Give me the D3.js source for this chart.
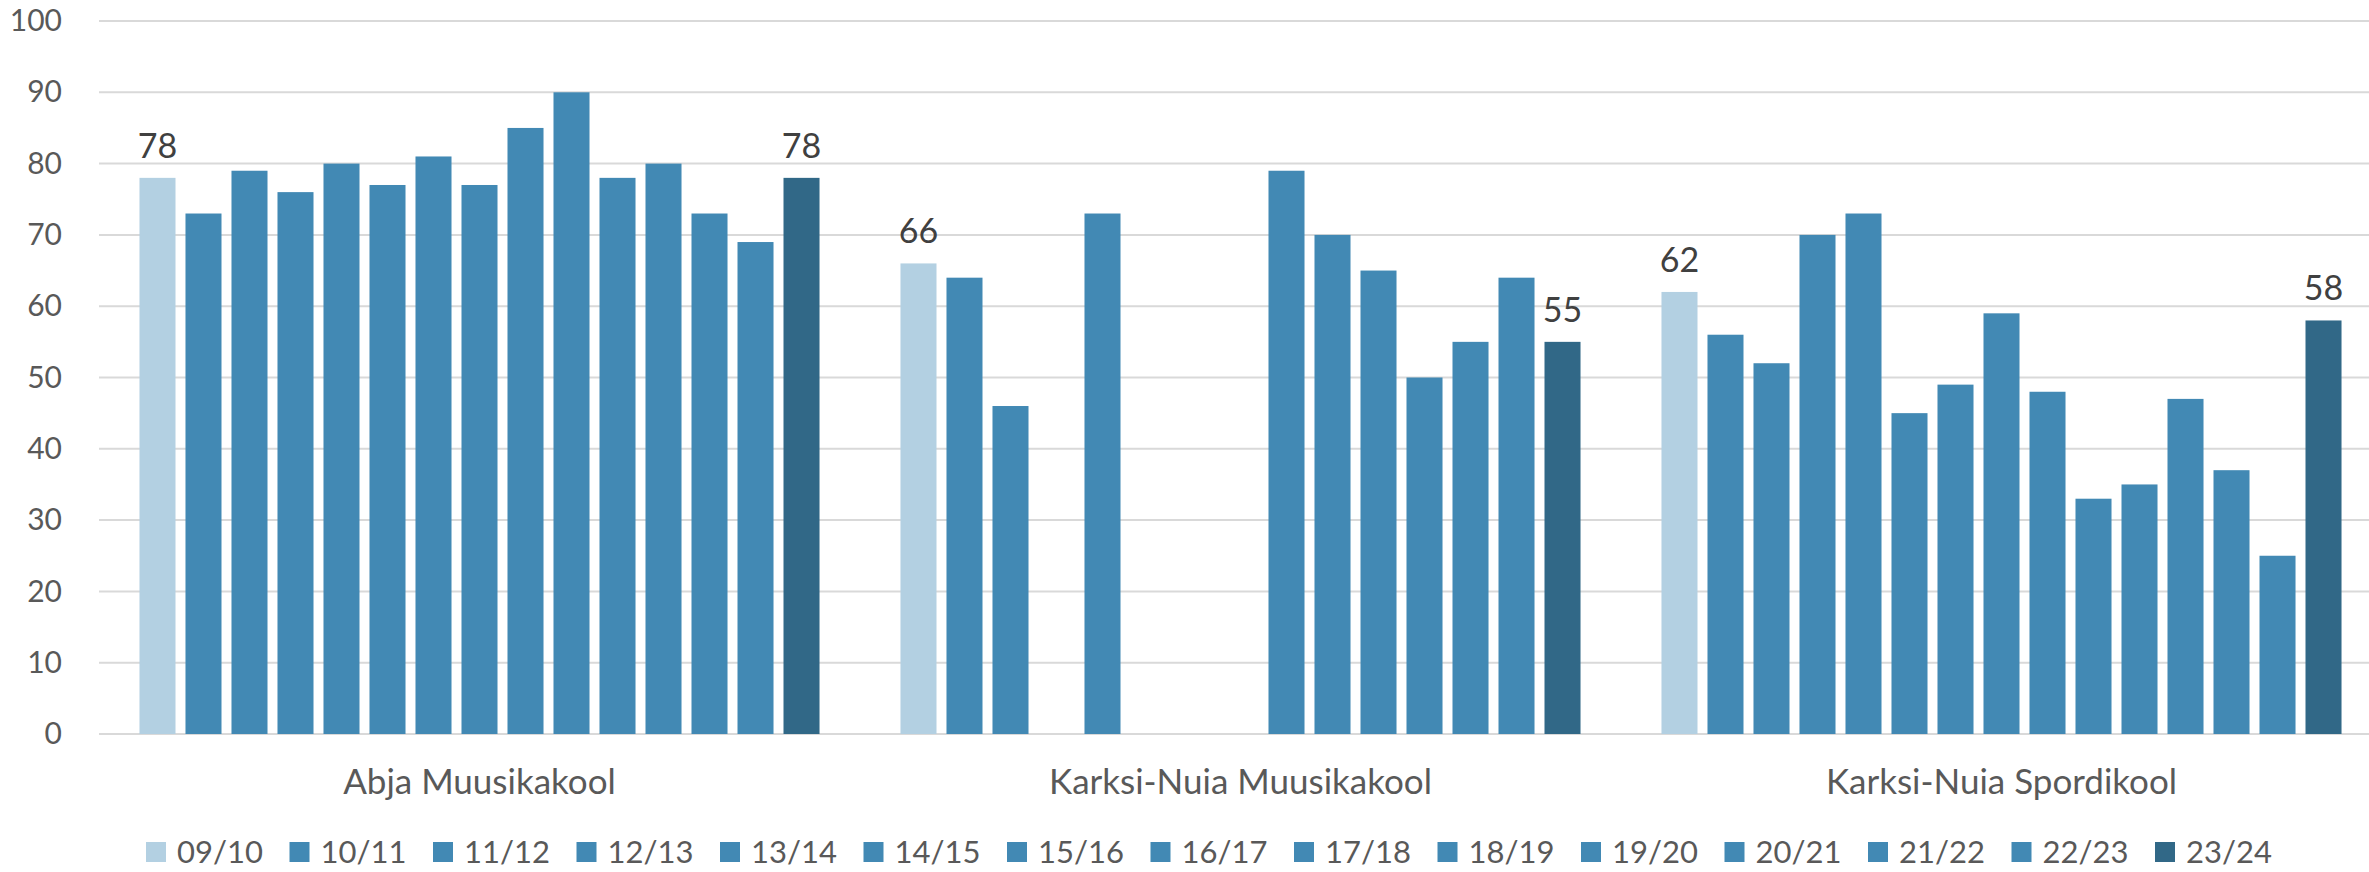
<!DOCTYPE html>
<html>
<head>
<meta charset="utf-8">
<script src="https://cdn.jsdelivr.net/npm/d3@7"></script>
<style>
  body { margin: 0; background: #fff; }
  text { font-family: Lato, "Open Sans", sans-serif; fill: #595959; }
</style>
</head>
<body>
<div id="chart"></div>
<script>
const schools = ['Abja Muusikakool', 'Karksi-Nuia Muusikakool', 'Karksi-Nuia Spordikool']
const years = ['09/10', '10/11', '11/12', '12/13', '13/14', '14/15', '15/16', '16/17',
               '17/18', '18/19', '19/20', '20/21', '21/22', '22/23', '23/24']
const abja = [78, 73, 79, 76, 80, 77, 81, 77, 85, 90, 78, 80, 73, 69, 78]
const karksiMuusika = [66, 64, 46, null, 73, null, null, null, 79, 70, 65, 50, 55, 64, 55]
const karksiSport = [62, 56, 52, 70, 73, 45, 49, 59, 48, 33, 35, 47, 37, 25, 58]
const yTicks = [0, 10, 20, 30, 40, 50, 60, 70, 80, 90, 100]
const labelledYears = ['09/10', '23/24']

const w = 2369
const h = 872
const margin = { top: 21, right: -13, bottom: 138, left: 99 }

const values = [abja, karksiMuusika, karksiSport]
const chartData = []
schools.forEach((s, i) => {
    years.forEach((y, j) => {
        if (values[i][j] != null) chartData.push({ school: s, year: y, value: values[i][j] })
    })
})

const color = y => y === '09/10' ? '#b3d0e2' : (y === '23/24' ? '#316887' : '#4289b4')

const svg = d3.select('#chart')
    .append('svg')
    .attr('width', w)
    .attr('height', h)

const x0 = d3.scaleBand()
    .domain(schools)
    .range([margin.left, w - margin.right])
    .padding(0)

const x1 = d3.scaleBand()
    .domain(years)
    .range([0, x0.bandwidth()])
    .paddingInner(0.217)
    .paddingOuter(0.88)

const yScale = d3.scaleLinear()
    .domain([0, 100])
    .range([h - margin.bottom, margin.top])

// gridlines
svg.append('g')
    .selectAll('line')
    .data(yTicks)
    .enter()
    .append('line')
    .attr('x1', margin.left)
    .attr('x2', w - margin.right)
    .attr('y1', d => yScale(d))
    .attr('y2', d => yScale(d))
    .attr('stroke', '#d9d9d9')
    .attr('stroke-width', 2)

const yAxis = d3.axisLeft(yScale).tickValues(yTicks).tickSize(0).tickPadding(0)
svg.append('g')
    .attr('transform', 'translate(62,0)')
    .call(yAxis)
    .call(g => g.select('.domain').remove())
    .selectAll('text')
    .attr('font-size', 30)
    .style('font-family', null)

svg.selectAll('rect.bar')
    .data(chartData)
    .enter()
    .append('rect')
    .attr('class', 'bar')
    .attr('x', d => x0(d.school) + x1(d.year))
    .attr('y', d => yScale(d.value))
    .attr('width', x1.bandwidth())
    .attr('height', d => yScale(0) - yScale(d.value))
    .attr('fill', d => color(d.year))

svg.selectAll('text.lbl')
    .data(chartData.filter(d => labelledYears.includes(d.year)))
    .enter()
    .append('text')
    .attr('class', 'lbl')
    .attr('x', d => x0(d.school) + x1(d.year) + x1.bandwidth() / 2)
    .attr('y', d => yScale(d.value) - 20)
    .attr('text-anchor', 'middle')
    .attr('font-size', 34)
    .style('fill', '#404040')
    .text(d => d.value)

const xAxis = d3.axisBottom(x0).tickSize(0).tickPadding(0)
svg.append('g')
    .attr('transform', 'translate(0,' + (h - margin.bottom) + ')')
    .call(xAxis)
    .call(g => g.select('.domain').remove())
    .selectAll('text')
    .attr('dy', null)
    .attr('y', 60)
    .attr('font-size', 35)
    .style('font-family', null)

// legend
const lx = d3.scalePoint()
    .domain(years)
    .range([146, 2155])

const legend = svg.append('g')
    .selectAll('g')
    .data(years)
    .enter()
    .append('g')
    .attr('transform', d => 'translate(' + lx(d) + ',842)')

legend.append('rect')
    .attr('width', 20)
    .attr('height', 20)
    .attr('fill', d => color(d))

legend.append('text')
    .attr('x', 31)
    .attr('y', 10)
    .attr('dy', '0.35em')
    .attr('font-size', 31)
    .text(d => d)
</script>
</body>
</html>
